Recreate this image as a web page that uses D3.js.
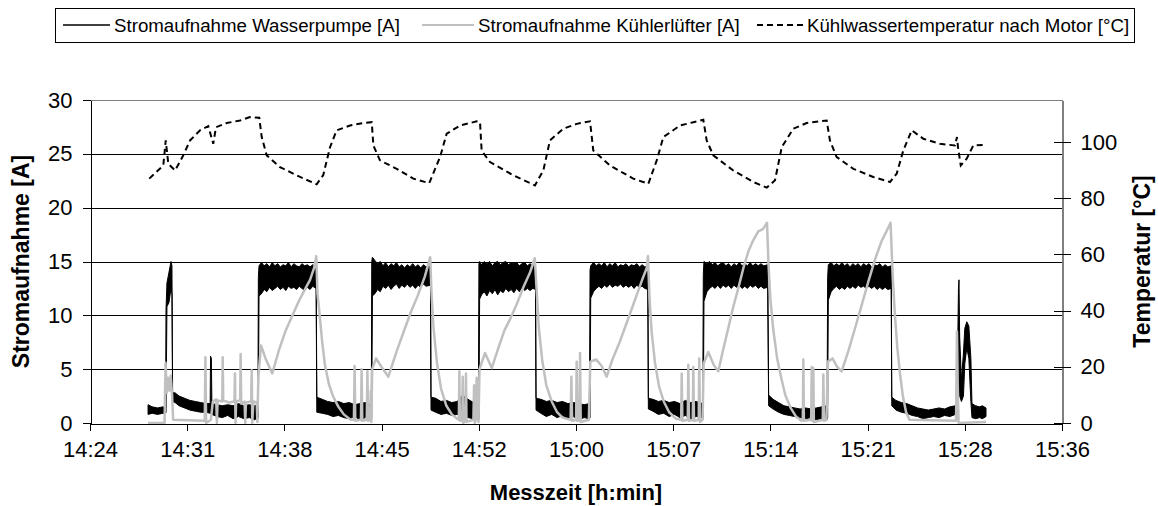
<!DOCTYPE html>
<html>
<head>
<meta charset="utf-8">
<script src="https://cdn.jsdelivr.net/npm/d3@7"></script>
<style>
  body { margin: 0; background: #fff; }
  text { font-family: "Liberation Sans", Arial, sans-serif; fill: #000; }
</style>
</head>
<body>
<div id="chart"></div>
<script>
// x values are minutes after 14:24
const xTickMinutes = [0, 7.2, 14.4, 21.6, 28.8, 36, 43.2, 50.4, 57.6, 64.8, 72];
const xTickLabels = ["14:24", "14:31", "14:38", "14:45", "14:52", "15:00", "15:07", "15:14", "15:21", "15:28", "15:36"];
const currentTicks = [0, 5, 10, 15, 20, 25, 30];
const tempTicks = [0, 20, 40, 60, 80, 100];
const seriesNames = ["Stromaufnahme Wasserpumpe [A]", "Stromaufnahme Kühlerlüfter [A]", "Kühlwassertemperatur nach Motor [°C]"];

// water pump current, noisy signal kept as [minute, low, high]
const pumpBand = [
  [4.30, 0.8, 1.7], [4.6, 0.9, 1.5], [5.0, 0.8, 1.4], [5.4, 0.9, 1.5], [5.60, 0.9, 1.4],
  [5.63, 1.0, 10.5], [5.70, 10.8, 13.0], [5.85, 11.2, 14.0], [6.0, 12.5, 15.0], [6.07, 12.0, 14.6],
  [6.12, 2.0, 2.8], [6.3, 1.9, 2.8], [6.6, 1.6, 2.5], [7.0, 1.4, 2.3], [7.4, 1.2, 2.1], [7.8, 1.1, 2.0],
  [8.2, 1.0, 1.9], [8.6, 1.0, 1.8], [8.9, 0.9, 1.8], [8.93, 0.9, 6.2], [8.99, 0.9, 6.0], [9.03, 0.8, 1.8],
  [9.4, 0.6, 1.7], [9.8, 0.5, 1.6], [10.2, 0.7, 1.7], [10.6, 0.4, 1.6], [11.0, 0.6, 1.8], [11.4, 0.4, 1.6],
  [11.8, 0.5, 1.7], [12.2, 0.3, 1.6], [12.44, 0.5, 1.7],
  [12.47, 0.5, 13.5], [12.52, 11.8, 14.6], [12.7, 12.0, 14.9], [12.9, 12.4, 14.6], [13.1, 12.2, 14.8],
  [13.3, 12.6, 14.5], [13.5, 12.3, 14.9], [13.7, 12.5, 14.6], [13.9, 12.7, 14.8], [14.1, 12.4, 14.5],
  [14.3, 12.6, 14.7], [14.5, 12.3, 14.6], [14.7, 12.7, 14.9], [14.9, 12.5, 14.5], [15.1, 12.6, 14.8],
  [15.3, 12.4, 14.6], [15.5, 12.7, 14.5], [15.7, 12.5, 14.8], [15.9, 12.3, 14.6], [16.1, 12.6, 14.7],
  [16.3, 12.4, 14.5], [16.5, 12.7, 14.7], [16.75, 12.5, 14.5],
  [16.80, 1.0, 2.4], [17.2, 0.9, 2.2], [17.6, 0.8, 2.0], [18.0, 0.6, 1.9], [18.4, 0.7, 2.0], [18.8, 0.5, 1.8],
  [19.2, 0.4, 1.9], [19.6, 0.6, 1.7], [20.0, 0.3, 1.8], [20.4, 0.5, 1.9], [20.84, 0.4, 1.7],
  [20.87, 0.5, 15.0], [20.92, 11.8, 15.4], [21.1, 12.0, 15.1], [21.3, 12.4, 14.8], [21.5, 12.2, 15.0],
  [21.7, 12.7, 14.6], [21.9, 12.5, 14.9], [22.1, 12.8, 14.5], [22.3, 12.4, 14.8], [22.5, 12.7, 14.6],
  [22.7, 12.9, 14.9], [22.9, 12.5, 14.5], [23.1, 12.8, 14.7], [23.3, 12.6, 14.4], [23.5, 12.9, 14.7],
  [23.7, 12.6, 14.5], [23.9, 12.8, 14.8], [24.1, 12.5, 14.5], [24.3, 12.8, 14.7], [24.5, 12.6, 14.4],
  [24.7, 12.9, 14.7], [24.9, 12.7, 14.5], [25.22, 12.8, 14.7],
  [25.26, 1.2, 2.4], [25.6, 1.0, 2.3], [26.0, 0.8, 2.0], [26.4, 0.9, 2.1], [26.8, 0.7, 1.9], [27.2, 0.8, 2.0],
  [27.6, 0.6, 2.6], [28.0, 0.5, 2.2], [28.4, 0.4, 1.9], [28.77, 0.3, 1.8],
  [28.81, 0.5, 14.8], [28.86, 11.5, 15.0], [29.0, 11.9, 14.7], [29.2, 12.2, 15.0], [29.4, 11.8, 14.8],
  [29.6, 12.3, 15.0], [29.8, 12.0, 14.6], [30.0, 12.4, 14.9], [30.2, 11.9, 15.0], [30.4, 12.3, 14.7],
  [30.6, 12.1, 14.9], [30.8, 12.5, 15.0], [31.0, 12.2, 14.7], [31.2, 12.4, 14.9], [31.4, 12.1, 14.8],
  [31.6, 12.5, 14.9], [31.8, 12.2, 14.6], [32.0, 12.6, 14.8], [32.2, 12.3, 14.9], [32.4, 12.5, 14.6],
  [32.6, 12.3, 14.8], [32.8, 12.5, 14.6], [33.0, 12.4, 14.7],
  [33.04, 1.2, 2.3], [33.4, 0.9, 2.2], [33.8, 0.6, 2.0], [34.2, 0.8, 2.1], [34.6, 0.5, 1.9], [35.0, 0.7, 2.0],
  [35.4, 0.4, 1.8], [35.8, 0.6, 1.9], [36.2, 0.3, 1.8], [36.6, 0.5, 1.7], [37.0, 0.4, 1.8],
  [37.04, 0.5, 14.2], [37.09, 11.6, 14.6], [37.3, 12.2, 14.9], [37.5, 12.5, 14.6], [37.7, 12.7, 14.8],
  [37.9, 12.5, 14.6], [38.1, 12.8, 14.9], [38.3, 12.6, 14.5], [38.5, 12.9, 14.8], [38.7, 12.6, 14.6],
  [38.9, 12.8, 14.9], [39.1, 12.7, 14.5], [39.3, 12.9, 14.7], [39.5, 12.6, 14.6], [39.7, 12.8, 14.8],
  [39.9, 12.6, 14.5], [40.1, 12.8, 14.7], [40.3, 12.5, 14.6], [40.5, 12.8, 14.8], [40.7, 12.6, 14.5],
  [40.9, 12.7, 14.7], [41.1, 12.5, 14.5], [41.32, 12.4, 14.6],
  [41.36, 1.3, 2.3], [41.7, 1.1, 2.2], [42.1, 0.8, 2.0], [42.5, 0.9, 2.1], [42.9, 0.6, 1.9], [43.3, 0.8, 2.0],
  [43.7, 0.5, 1.8], [44.1, 0.7, 2.1], [44.5, 0.4, 1.9], [44.9, 0.6, 2.0], [45.39, 0.5, 1.8],
  [45.43, 0.5, 13.8], [45.48, 11.3, 15.0], [45.7, 12.2, 14.8], [45.9, 12.5, 15.0], [46.1, 12.7, 14.7],
  [46.3, 12.5, 14.9], [46.5, 12.8, 14.6], [46.7, 12.5, 14.8], [46.9, 12.8, 14.9], [47.1, 12.6, 14.6],
  [47.3, 12.8, 14.8], [47.5, 12.5, 14.5], [47.7, 12.8, 14.8], [47.9, 12.6, 14.6], [48.1, 12.8, 14.9],
  [48.3, 12.5, 14.6], [48.5, 12.7, 14.8], [48.7, 12.5, 14.6], [48.9, 12.8, 14.9], [49.1, 12.6, 14.6],
  [49.3, 12.8, 14.8], [49.5, 12.5, 14.6], [49.7, 12.7, 14.8], [49.9, 12.5, 14.6], [50.2, 12.6, 14.7],
  [50.27, 1.6, 2.6], [50.6, 1.3, 2.2], [51.0, 1.0, 1.9], [51.4, 0.8, 1.6], [51.8, 0.7, 1.5], [52.2, 0.6, 1.4],
  [52.6, 0.5, 1.3], [53.0, 0.4, 1.4], [53.4, 0.5, 1.3], [53.8, 0.3, 1.4], [54.2, 0.4, 1.5], [54.6, 0.3, 1.6],
  [54.64, 0.5, 13.5], [54.69, 11.4, 14.7], [54.9, 12.2, 14.9], [55.1, 12.5, 14.6], [55.3, 12.7, 14.8],
  [55.5, 12.4, 14.6], [55.7, 12.6, 14.9], [55.9, 12.4, 14.6], [56.1, 12.7, 14.8], [56.3, 12.5, 14.5],
  [56.5, 12.7, 14.8], [56.7, 12.5, 14.6], [56.9, 12.8, 14.8], [57.1, 12.6, 14.5], [57.3, 12.7, 14.8],
  [57.5, 12.5, 14.6], [57.7, 12.7, 14.8], [57.9, 12.5, 14.5], [58.1, 12.7, 14.7], [58.3, 12.4, 14.6],
  [58.5, 12.6, 14.8], [58.7, 12.4, 14.5], [58.9, 12.6, 14.7], [59.1, 12.4, 14.5], [59.35, 12.5, 14.6],
  [59.39, 1.6, 2.4], [59.7, 1.2, 2.1], [60.1, 1.0, 1.9], [60.5, 0.9, 1.8], [60.9, 0.7, 1.6], [61.3, 0.6, 1.4],
  [61.7, 0.4, 1.3], [62.1, 0.5, 1.2], [62.5, 0.6, 1.3], [62.9, 0.5, 1.4], [63.3, 0.7, 1.3], [63.7, 0.6, 1.5],
  [64.1, 0.8, 1.6], [64.22, 0.8, 2.0], [64.33, 1.5, 12.5], [64.37, 9.0, 13.3], [64.42, 2.5, 8.0],
  [64.55, 2.0, 4.0], [64.7, 2.5, 6.5], [64.8, 5.5, 8.8], [64.95, 7.0, 9.4], [65.1, 6.0, 9.0], [65.25, 2.0, 6.0],
  [65.33, 0.5, 1.8], [65.6, 0.4, 1.6], [65.9, 0.5, 1.5], [66.1, 0.4, 1.6], [66.37, 0.6, 1.4]
];

// radiator fan current [minute, A]
const fanCurrent = [
  [4.30, 0.0], [5.52, 0.0], [5.60, 5.6], [5.68, 2.8], [5.78, 4.2], [5.88, 3.0], [5.98, 4.4], [6.08, 2.6],
  [6.16, 0.3], [8.50, 0.2], [8.55, 6.1], [8.60, 0.0], [8.95, 0.3], [9.10, 2.0], [9.35, 2.2], [9.40, 0.0],
  [9.45, 2.1], [9.80, 2.0], [9.83, 6.1], [9.87, 2.1], [10.3, 1.9], [10.70, 2.0], [10.74, 4.6], [10.78, 0.0],
  [10.82, 2.0], [11.12, 2.1], [11.16, 6.4], [11.20, 1.8], [11.45, 2.0], [11.50, 0.0], [11.55, 1.9],
  [11.94, 2.0], [11.98, 4.9], [12.02, 0.0], [12.10, 2.0], [12.35, 1.9], [12.40, 0.1],
  [12.47, 4.3], [12.67, 7.2], [13.0, 6.0], [13.5, 4.6], [14.0, 6.8], [14.5, 8.6], [15.0, 10.0], [15.5, 11.4],
  [16.0, 12.6], [16.3, 13.3], [16.6, 14.4], [16.76, 15.5],
  [16.85, 12.0], [17.0, 10.2], [17.2, 7.5], [17.4, 5.4], [17.7, 3.6], [18.0, 2.5], [18.4, 1.5], [18.8, 0.8],
  [19.3, 0.3], [19.55, 0.3], [19.60, 5.3], [19.65, 0.2], [20.07, 0.3], [20.12, 5.0], [20.17, 0.2],
  [20.50, 0.3], [20.55, 4.8], [20.60, 0.2], [20.75, 0.3], [20.80, 3.0], [20.84, 0.1],
  [20.90, 5.0], [21.19, 6.0], [21.6, 5.2], [22.1, 4.3], [22.7, 6.6], [23.33, 8.8], [23.8, 10.4], [24.3, 11.9],
  [24.8, 13.6], [25.2, 15.4],
  [25.3, 12.0], [25.45, 8.8], [25.7, 5.6], [26.0, 3.2], [26.4, 1.6], [26.8, 0.8], [27.2, 0.4],
  [27.32, 0.3], [27.36, 4.8], [27.40, 0.2], [27.57, 0.3], [27.61, 4.3], [27.65, 0.0], [27.81, 0.3],
  [27.85, 4.6], [27.89, 0.1], [28.40, 0.3], [28.45, 3.5], [28.50, 0.0], [28.60, 0.4], [28.64, 4.2], [28.78, 0.1],
  [28.85, 5.0], [29.26, 6.5], [29.76, 5.1], [30.2, 6.8], [30.7, 8.6], [31.1, 9.6], [31.6, 11.0], [32.1, 12.6],
  [32.6, 14.0], [32.95, 15.3],
  [33.1, 12.0], [33.25, 8.8], [33.5, 5.8], [33.8, 3.5], [34.2, 2.0], [34.6, 1.0], [35.0, 0.5], [35.6, 0.3],
  [35.66, 4.3], [35.71, 0.2], [36.01, 0.3], [36.05, 5.7], [36.10, 0.2], [36.26, 0.3], [36.30, 6.5],
  [36.35, 0.1], [36.95, 0.3],
  [37.06, 5.7], [37.5, 5.9], [37.9, 5.3], [38.27, 4.3], [38.7, 5.9], [39.26, 7.6], [39.9, 9.8], [40.5, 11.9],
  [40.9, 13.3], [41.24, 14.4], [41.33, 15.5],
  [41.45, 11.5], [41.6, 8.5], [41.85, 5.6], [42.15, 3.4], [42.5, 2.0], [42.9, 1.0], [43.4, 0.4],
  [43.79, 0.3], [43.83, 4.6], [43.88, 0.2], [44.28, 0.3], [44.32, 5.4], [44.37, 0.2], [44.65, 0.3],
  [44.69, 5.2], [44.74, 0.2], [45.09, 0.3], [45.13, 6.0], [45.18, 0.1], [45.38, 0.3],
  [45.45, 5.5], [45.8, 6.6], [46.2, 5.4], [46.54, 4.8], [46.9, 6.8], [47.28, 8.8], [47.65, 10.8],
  [48.02, 12.5], [48.4, 14.4], [48.76, 15.9], [49.1, 16.9], [49.5, 17.8], [49.85, 18.0], [50.15, 18.6],
  [50.25, 15.0], [50.4, 11.5], [50.6, 8.8], [50.9, 6.0], [51.2, 4.2], [51.5, 2.6], [51.9, 1.4], [52.3, 0.6],
  [52.7, 0.2], [52.80, 0.3], [52.84, 5.9], [52.88, 0.2], [53.42, 0.3], [53.46, 5.2], [53.50, 0.2],
  [53.54, 0.3], [53.58, 5.1], [53.62, 0.1], [54.28, 0.3], [54.32, 4.5], [54.37, 0.2], [54.55, 0.3],
  [54.66, 5.7], [55.0, 6.0], [55.35, 5.2], [55.68, 4.8], [56.2, 6.8], [56.67, 8.8], [57.15, 10.9],
  [57.65, 13.1], [58.15, 15.2], [58.64, 16.9], [59.0, 17.8], [59.3, 18.6],
  [59.45, 14.0], [59.6, 10.5], [59.8, 7.0], [60.0, 4.6], [60.2, 2.6], [60.45, 1.0], [60.7, 0.3],
  [64.15, 0.2], [64.22, 8.5], [64.28, 3.0], [64.34, 0.0], [66.37, 0.1]
];

// coolant temperature after engine [minute, °C]
const coolantTemp = [
  [4.39, 87.0], [5.43, 91.7], [5.61, 100.6], [5.80, 92.3], [6.30, 89.9], [6.91, 95.3], [7.41, 100.6],
  [8.15, 104.2], [8.76, 105.7], [9.13, 99.4], [9.33, 105.3], [10.13, 106.8], [11.11, 107.7], [11.85, 108.9],
  [12.54, 108.7], [12.72, 101.8], [13.09, 95.3], [14.07, 91.1], [15.56, 87.6], [16.79, 85.0],
  [17.28, 88.3], [17.78, 98.2], [18.27, 104.2], [19.26, 105.9], [20.24, 106.8], [20.87, 107.1],
  [20.99, 98.8], [21.48, 93.5], [22.72, 90.5], [23.95, 87.0], [25.13, 85.4],
  [25.93, 94.7], [26.42, 103.0], [27.41, 105.9], [28.64, 107.4], [28.89, 107.1],
  [29.01, 97.0], [29.63, 92.9], [31.36, 88.2], [32.96, 84.6],
  [33.58, 89.9], [34.07, 100.6], [35.06, 104.8], [36.05, 106.5], [37.04, 107.4],
  [37.28, 97.0], [38.52, 91.7], [40.24, 87.0], [41.36, 85.2],
  [41.98, 93.5], [42.47, 101.8], [43.70, 105.9], [44.69, 107.1], [45.43, 108.0],
  [45.68, 100.6], [46.17, 95.3], [47.65, 89.9], [49.13, 85.8], [50.13, 83.8],
  [50.74, 86.4], [51.24, 98.2], [52.10, 104.8], [53.09, 106.8], [54.57, 107.7],
  [54.81, 100.6], [55.31, 94.7], [56.54, 90.5], [58.02, 87.6], [59.26, 85.8],
  [59.76, 88.8], [60.24, 97.0], [60.87, 104.2], [61.73, 101.2], [62.96, 99.4], [64.07, 98.8],
  [64.22, 101.8], [64.30, 98.0], [64.50, 91.7], [64.94, 94.1], [65.43, 98.8], [66.37, 99.0]
];

const W = 1158, H = 506;
const plot = { left: 90, right: 1062, top: 100, bottom: 423 };

const svg = d3.select("#chart").append("svg")
  .attr("width", W)
  .attr("height", H);

const x = d3.scaleLinear().domain([0, 72]).range([plot.left, plot.right]);
const yA = d3.scaleLinear().domain([0, 30]).range([plot.bottom, plot.top]);
const yT = d3.scaleLinear().domain([0, 115]).range([plot.bottom, plot.top]);

// horizontal gridlines
svg.append("g").attr("class", "grid")
  .selectAll("line")
  .data(currentTicks.filter(d => d > 0))
  .enter().append("line")
  .attr("x1", plot.left).attr("x2", plot.right)
  .attr("y1", d => Math.round(yA(d)) + 0.5).attr("y2", d => Math.round(yA(d)) + 0.5)
  .style("stroke", d => d === 30 ? "#808080" : "#000")
  .style("stroke-width", 1);

// right border of the plot area
svg.append("line")
  .attr("x1", plot.right + 0.5).attr("x2", plot.right + 0.5)
  .attr("y1", plot.top).attr("y2", plot.bottom)
  .style("stroke", "#808080");

// series
const pumpArea = d3.area()
  .x(d => x(d[0]))
  .y0(d => yA(d[1]))
  .y1(d => yA(d[2]));

svg.append("path")
  .datum(pumpBand)
  .attr("d", pumpArea)
  .style("fill", "#000")
  .style("stroke", "#000")
  .style("stroke-width", 1);

const fanLine = d3.line().x(d => x(d[0])).y(d => yA(d[1]));
svg.append("path")
  .datum(fanCurrent)
  .attr("d", fanLine)
  .style("fill", "none")
  .style("stroke", "#c0c0c0")
  .style("stroke-width", 2.5)
  .style("stroke-linejoin", "round");

const tempLine = d3.line().x(d => x(d[0])).y(d => yT(d[1]));
svg.append("path")
  .datum(coolantTemp)
  .attr("d", tempLine)
  .style("fill", "none")
  .style("stroke", "#000")
  .style("stroke-width", 2)
  .style("stroke-dasharray", "6,4");

// axes
const xAxis = svg.append("g")
  .attr("transform", `translate(0,${plot.bottom + 0.5})`)
  .call(d3.axisBottom(x)
    .tickValues(xTickMinutes)
    .tickFormat((d, i) => xTickLabels[i])
    .tickSize(7)
    .tickSizeOuter(7)
    .tickPadding(11));

const yAxisLeft = svg.append("g")
  .attr("transform", `translate(${plot.left + 0.5},0)`)
  .call(d3.axisLeft(yA)
    .tickValues(currentTicks)
    .tickSize(8)
    .tickSizeOuter(0)
    .tickPadding(10));

const yAxisRight = svg.append("g")
  .attr("transform", `translate(${plot.right + 0.5},0)`)
  .call(d3.axisRight(yT)
    .tickValues(tempTicks)
    .tickSize(8)
    .tickSizeOuter(0)
    .tickPadding(10));
yAxisRight.selectAll(".tick line").attr("x1", -9);
yAxisRight.select(".domain").style("stroke", "#808080");

svg.selectAll(".tick text")
  .style("font-size", "22px")
  .style("font-family", '"Liberation Sans", Arial, sans-serif');
svg.selectAll(".tick line, .domain").style("shape-rendering", "crispEdges");

// axis titles
svg.append("text")
  .attr("transform", `translate(29,${(plot.top + plot.bottom) / 2}) rotate(-90)`)
  .attr("text-anchor", "middle")
  .style("font-size", "23px")
  .style("font-weight", "bold")
  .text("Stromaufnahme [A]");

svg.append("text")
  .attr("transform", `translate(1150,${(plot.top + plot.bottom) / 2}) rotate(-90)`)
  .attr("text-anchor", "middle")
  .style("font-size", "23px")
  .style("font-weight", "bold")
  .text("Temperatur [°C]");

svg.append("text")
  .attr("x", (plot.left + plot.right) / 2)
  .attr("y", 500)
  .attr("text-anchor", "middle")
  .style("font-size", "22px")
  .style("font-weight", "bold")
  .text("Messzeit [h:min]");

// legend
const legend = svg.append("g").attr("class", "legend");
legend.append("rect")
  .attr("x", 55.5).attr("y", 8.5)
  .attr("width", 1079).attr("height", 34)
  .style("fill", "#fff")
  .style("stroke", "#000");

const legendItems = [
  { x1: 63, x2: 110, tx: 114, color: "#000", width: 1.5, dash: null },
  { x1: 422, x2: 474, tx: 478, color: "#c0c0c0", width: 2, dash: null },
  { x1: 757, x2: 804, tx: 807, color: "#000", width: 2, dash: "6,4" }
];
legendItems.forEach((d, i) => {
  legend.append("line")
    .attr("x1", d.x1).attr("x2", d.x2)
    .attr("y1", 25).attr("y2", 25)
    .style("stroke", d.color)
    .style("stroke-width", d.width)
    .style("stroke-dasharray", d.dash);
  legend.append("text")
    .attr("x", d.tx).attr("y", 31.5)
    .style("font-size", "18.7px")
    .text(seriesNames[i]);
});
</script>
</body>
</html>
